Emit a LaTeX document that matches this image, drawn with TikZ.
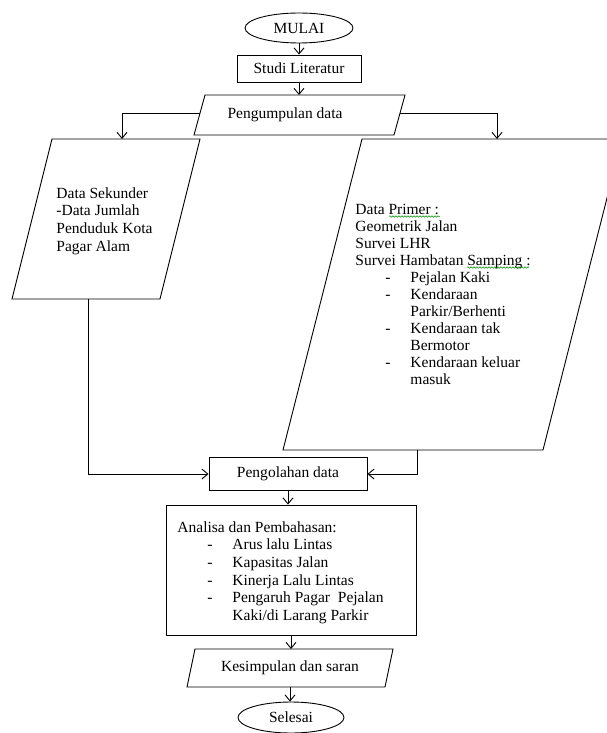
\documentclass[tikz,border=0pt]{standalone}
\usepackage{fontspec}
\setmainfont{Liberation Serif}
\usetikzlibrary{shapes.geometric,arrows.meta,decorations.pathmorphing}
\newcommand\fitem[1]{\makebox[55pt][l]{\hspace{30pt}-}#1}
\newcommand\fcont[1]{\makebox[55pt][l]{}#1}
\begin{document}
\begin{tikzpicture}[x=1pt,y=-1pt,
  line width=0.9pt,
  txt/.style={font=\fontsize{15.5}{17.6}\selectfont, inner sep=0pt},
  txtR/.style={font=\fontsize{15.5}{17}\selectfont, inner sep=0pt},
  boxnode/.style={draw, rectangle, inner sep=0pt, txt},
  parashape/.style={draw, line join=miter},
  oval/.style={draw, ellipse, inner sep=0pt, txt},
  arr/.style={-{Straight Barb[length=6pt,width=10pt]}},
  wavy/.style={green!55!black, line width=0.5pt, decorate, decoration={snake, amplitude=0.8pt, segment length=3pt}},
]
\useasboundingbox (0,0) rectangle (607,733);

% terminals and boxes
\node[oval, minimum width=108pt, minimum height=30pt] (start) at (299,28) {MULAI};
\node[boxnode, minimum width=124pt, minimum height=27pt] (studi) at (299,68.5) {Studi Literatur};

% Pengumpulan data (parallelogram)
\coordinate (kTL) at (205,95);  \coordinate (kTR) at (405,95);
\coordinate (kBR) at (394,135); \coordinate (kBL) at (194,135);
\draw[parashape] (kTL) -- (kTR) -- (kBR) -- (kBL) -- cycle;
\node[txt] (kumpul) at (285,115) {Pengumpulan data};
\coordinate (kW) at (200,113); \coordinate (kE) at (400,113);

% Data sekunder
\coordinate (sTL) at (52,139);  \coordinate (sTR) at (200,139);
\coordinate (sBR) at (160,299); \coordinate (sBL) at (12,299);
\draw[parashape] (sTL) -- (sTR) -- (sBR) -- (sBL) -- cycle;
\coordinate (sIn) at (122,139); \coordinate (sOut) at (88,299);
\node[txt, anchor=north west, align=left] (sek) at (56,187) {Data Sekunder\\-Data Jumlah\\Penduduk Kota\\Pagar Alam};

% Data primer
\coordinate (pTL) at (362,139); \coordinate (pTR) at (622,139);
\coordinate (pBR) at (543,450); \coordinate (pBL) at (283,450);
\draw[parashape] (pTL) -- (pTR) -- (pBR) -- (pBL) -- cycle;
\coordinate (pIn) at (497,139); \coordinate (pOut) at (417,450);
\begin{scope}
\clip (300,150) rectangle (600,384.5);
\node[txtR, anchor=north west, align=left] (prim) at (355,204) {Data Primer :\\Geometrik Jalan\\Survei LHR\\Survei Hambatan Samping :\\
\fitem{Pejalan Kaki}\\\fitem{Kendaraan}\\\fcont{Parkir/Berhenti}\\\fitem{Kendaraan tak}\\\fcont{Bermotor}\\\fitem{Kendaraan keluar}\\\fcont{masuk}};
\end{scope}
\draw[wavy] (389,216.5) -- (440,216.5);
\draw[wavy] (467,267.5) -- (529,267.5);

\node[boxnode, minimum width=158pt, minimum height=33pt] (olah) at (288,474) {Pengolahan data};
\node[boxnode, minimum width=250pt, minimum height=130pt] (ana) at (291,570) {};
\node[txt, anchor=north west, align=left] (anatxt) at (177,521) {Analisa dan Pembahasan:\\\fitem{Arus lalu Lintas}\\\fitem{Kapasitas Jalan}\\\fitem{Kinerja Lalu Lintas}\\\fitem{Pengaruh Pagar\ \ Pejalan}\\\fcont{Kaki/di Larang Parkir}};

% Kesimpulan
\coordinate (eTL) at (195,649); \coordinate (eTR) at (393,649);
\coordinate (eBR) at (385,687); \coordinate (eBL) at (187,687);
\draw[parashape] (eTL) -- (eTR) -- (eBR) -- (eBL) -- cycle;
\node[txt] (kes) at (290,668) {Kesimpulan dan saran};
\coordinate (eIn) at (291,649); \coordinate (eOut) at (290,687);

\node[oval, minimum width=106pt, minimum height=31pt] (sel) at (291,717.5) {Selesai};

% connectors
\draw[arr] (start) -- (studi);
\draw[arr] (studi) -- (studi.south |- kTL);
\draw[arr] (kW) -| (sIn);
\draw[arr] (kE) -| (pIn);
\draw[arr] (sOut) |- (olah.west);
\draw[arr] (pOut) |- (olah.east);
\draw[arr] (olah) -- (olah.south |- ana.north);
\draw[arr] (ana.south) -- (eIn);
\draw[arr] (eOut) -- (eOut |- sel.north);
\end{tikzpicture}
\end{document}
